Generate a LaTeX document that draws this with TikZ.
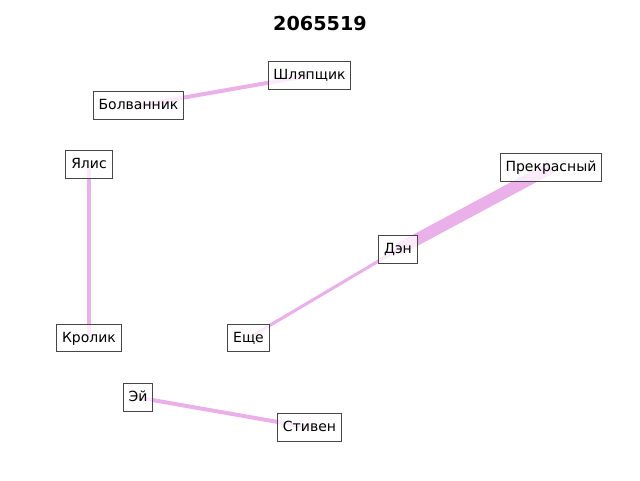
\documentclass[tikz,border=0pt]{standalone}
\usepackage{fontspec}
\setmainfont{DejaVu Sans}
\usetikzlibrary{backgrounds}

\definecolor{edgecol}{RGB}{234,176,234}
\definecolor{boxline}{RGB}{70,70,70}

\tikzset{
  person/.style={draw=boxline,line width=0.8pt,fill=white,fill opacity=0.75,text opacity=1,
    font=\fontsize{10.5}{12}\selectfont,inner xsep=4pt,inner ysep=4pt,
    text height=9.6pt,text depth=2.9pt},
  link/.style={draw=edgecol,line cap=butt}
}

\begin{document}
\begin{tikzpicture}[x=0.75pt,y=-0.75pt]
  \useasboundingbox (0,0) rectangle (640,480);
  \node[font=\fontsize{14.4}{16}\selectfont\bfseries] (title) at (320,24) {2065519};
  % people
  \node[person] (hat) at (309.5,75.5) {Шляпщик};
  \node[person] (dumb) at (138.5,105.5) {Болванник};
  \node[person] (yalis) at (89,164.5) {Ялис};
  \node[person] (fine) at (551,167.5) {Прекрасный};
  \node[person] (den) at (398,249.5) {Дэн};
  \node[person] (more) at (248.5,338) {Еще};
  \node[person] (rabbit) at (89,338) {Кролик};
  \node[person] (hey) at (138,397.5) {Эй};
  \node[person] (steve) at (309.5,427.5) {Стивен};
  % links
  \begin{pgfonlayer}{background}
    \draw[link,line width=3pt] (dumb.center) -- (hat.center);
    \draw[link,line width=2.3pt] (yalis.center) -- (rabbit.center);
    \draw[link,line width=9pt] (den.center) -- (fine.center);
    \draw[link,line width=2.3pt] (den.center) -- (more.center);
    \draw[link,line width=3pt] (hey.center) -- (steve.center);
  \end{pgfonlayer}
\end{tikzpicture}
\end{document}
